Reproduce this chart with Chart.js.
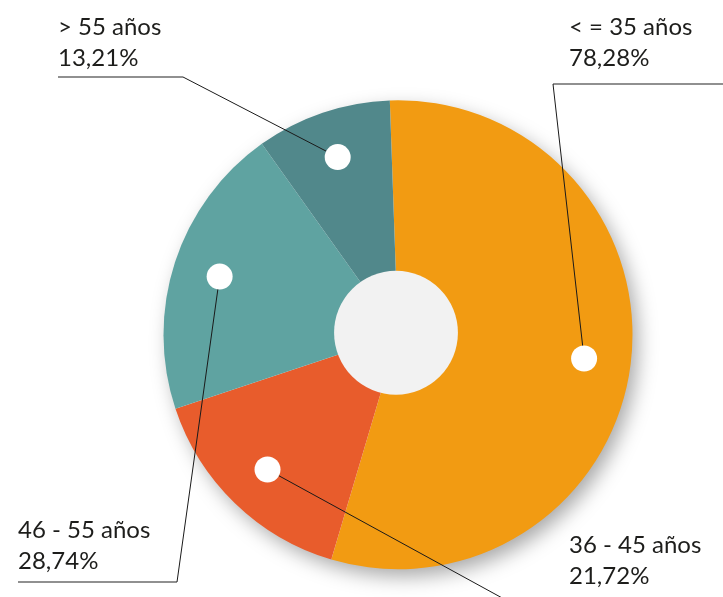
<!DOCTYPE html>
<html>
<head>
<meta charset="utf-8">
<script src="https://cdn.jsdelivr.net/npm/chart.js@4.4.1/dist/chart.umd.min.js"></script>
<style>
    html, body { margin: 0; padding: 0; background: #ffffff; }
    #ageChart { display: block; }
</style>
</head>
<body>
<canvas id="ageChart" width="723" height="597"></canvas>
<script>
const categories = ['< = 35 años', '36 - 45 años', '46 - 55 años', '> 55 años'];
const shares = [78.28, 21.72, 28.74, 13.21];
const sliceColors = ['#F29B12', '#E85C2C', '#5FA3A1', '#51888B'];

// where each label sits and where its leader line bends
const calloutSpots = [
    { text: [569, 35], elbow: [553, 84], tail: [723, 84] },
    { text: [569, 553], elbow: [515, 605], tail: null },
    { text: [18, 538], elbow: [177, 582], tail: [18, 582] },
    { text: [58, 35], elbow: [183, 77], tail: [58, 77] }
];

function formatShare(value) {
    return value.toFixed(2).replace('.', ',') + '%';
}

const calloutPlugin = {
    id: 'callouts',
    beforeDatasetsDraw(chart) {
        // soft drop shadow under the whole pie
        const arc = chart.getDatasetMeta(0).data[0];
        const ctx = chart.ctx;
        ctx.save();
        ctx.shadowColor = 'rgba(0, 0, 0, 0.35)';
        ctx.shadowBlur = 20;
        ctx.shadowOffsetX = 6;
        ctx.shadowOffsetY = 8;
        ctx.beginPath();
        ctx.arc(arc.x, arc.y, arc.outerRadius - 1, 0, Math.PI * 2);
        ctx.fillStyle = '#ffffff';
        ctx.fill();
        ctx.restore();
    },
    afterDatasetsDraw(chart) {
        const ctx = chart.ctx;
        const arcs = chart.getDatasetMeta(0).data;
        const cx = arcs[0].x;
        const cy = arcs[0].y;
        const radius = arcs[0].outerRadius;

        // grey hub
        ctx.save();
        ctx.beginPath();
        ctx.arc(cx - 2, cy - 2, radius * 0.264, 0, Math.PI * 2);
        ctx.fillStyle = '#F2F2F2';
        ctx.fill();

        arcs.forEach((arc, i) => {
            const mid = (arc.startAngle + arc.endAngle) / 2;
            const dotX = cx + Math.cos(mid) * radius * 0.8;
            const dotY = cy + Math.sin(mid) * radius * 0.8;
            const spot = calloutSpots[i];

            if (spot.tail) {
                ctx.beginPath();
                ctx.moveTo(spot.tail[0], spot.tail[1]);
                ctx.lineTo(spot.elbow[0], spot.elbow[1]);
                ctx.strokeStyle = '#6b6b6b';
                ctx.lineWidth = 1.3;
                ctx.stroke();
            }
            ctx.beginPath();
            ctx.moveTo(spot.elbow[0], spot.elbow[1]);
            ctx.lineTo(dotX, dotY);
            ctx.strokeStyle = '#1a1a1a';
            ctx.lineWidth = 1;
            ctx.stroke();

            ctx.beginPath();
            ctx.arc(dotX, dotY, 13, 0, Math.PI * 2);
            ctx.fillStyle = '#ffffff';
            ctx.fill();

            ctx.fillStyle = '#1d1d1b';
            ctx.font = '24px Lato';
            ctx.textAlign = 'left';
            ctx.textBaseline = 'alphabetic';
            ctx.fillText(categories[i], spot.text[0], spot.text[1]);
            ctx.fillText(formatShare(shares[i]), spot.text[0], spot.text[1] + 31);
        });
        ctx.restore();
    }
};

new Chart(document.getElementById('ageChart'), {
    type: 'pie',
    data: {
        labels: categories,
        datasets: [{
            data: shares,
            backgroundColor: sliceColors,
            borderWidth: 0
        }]
    },
    options: {
        responsive: false,
        animation: false,
        rotation: -2,
        layout: {
            padding: { top: 100, bottom: 27.5, left: 163.5, right: 90.5 }
        },
        plugins: {
            legend: { display: false },
            tooltip: { enabled: false }
        }
    },
    plugins: [calloutPlugin]
});
</script>
</body>
</html>
